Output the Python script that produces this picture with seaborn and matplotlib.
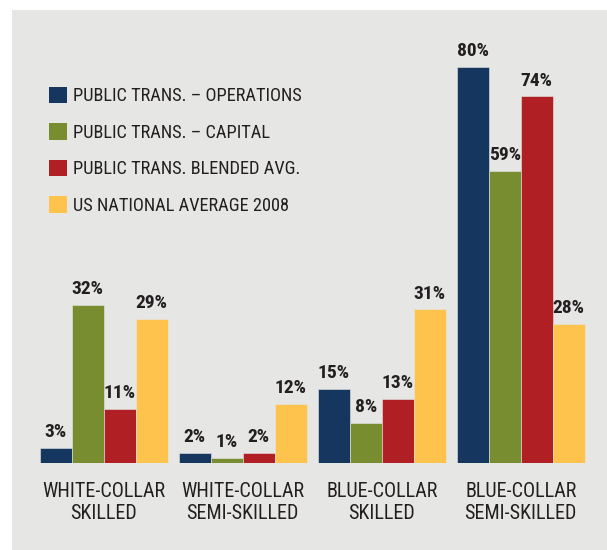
import seaborn as sns
import matplotlib.pyplot as plt
import pandas as pd
from matplotlib.patches import Rectangle, Patch

categories = ['WHITE-COLLAR\nSKILLED', 'WHITE-COLLAR\nSEMI-SKILLED',
              'BLUE-COLLAR\nSKILLED', 'BLUE-COLLAR\nSEMI-SKILLED']
series = ['PUBLIC TRANS. \u2013 OPERATIONS', 'PUBLIC TRANS. \u2013 CAPITAL',
          'PUBLIC TRANS. BLENDED AVG.', 'US NATIONAL AVERAGE 2008']
operations = [3, 2, 15, 80]
capital = [32, 1, 8, 59]
blended = [11, 2, 13, 74]
national = [29, 12, 31, 28]
colors = ['#15375f', '#778d30', '#b01f24', '#fec34c']

rows = []
for name, vals in zip(series, [operations, capital, blended, national]):
    for cat, v in zip(categories, vals):
        rows.append({'category': cat, 'series': name, 'value': v})
df = pd.DataFrame(rows)

sns.set_style('white')
plt.rcParams['font.family'] = ['Roboto Condensed', 'Liberation Sans', 'DejaVu Sans']
text_color = '#231f20'

fig = plt.figure(figsize=(6.07, 5.5), dpi=100)
fig.patch.set_facecolor('white')
fig.patches.append(Rectangle((12 / 607, 0), 1, 1 - 10 / 550, transform=fig.transFigure,
                             facecolor='#e6e6e5', edgecolor='none', zorder=-10))

ax = fig.add_axes([12 / 607, 87 / 550, 595 / 607, 421 / 550])
ax.patch.set_alpha(0)
sns.barplot(data=df, x='category', y='value', hue='series', palette=colors,
            width=0.92, ax=ax, legend=False, saturation=1,
            edgecolor='#e6e6e5', linewidth=0.4)

for container in ax.containers:
    ax.bar_label(container, labels=[f'{v:.0f}%' for v in container.datavalues],
                 padding=5, fontsize=14, fontweight='bold', color=text_color)

ax.set_xlim(-0.66, 3.62)
ax.set_ylim(0, 85)
ax.set_xlabel('')
ax.set_ylabel('')
ax.set_yticks([])
ax.tick_params(axis='x', length=0, pad=14, labelsize=14.5, labelcolor=text_color)
for lbl in ax.get_xticklabels():
    lbl.set_linespacing(1.2)
for s in ax.spines.values():
    s.set_visible(False)

handles = [Patch(facecolor=c, edgecolor='none') for c in colors]
ax.legend(handles, series, loc='upper left', bbox_to_anchor=(49 / 607, 1 - 87 / 550),
          bbox_transform=fig.transFigure, frameon=False, fontsize=13.2,
          labelcolor=text_color, borderpad=0, borderaxespad=0,
          handlelength=1.0, handleheight=1.0, handletextpad=0.3,
          labelspacing=0.98)

fig.savefig('out.png', dpi=100)
